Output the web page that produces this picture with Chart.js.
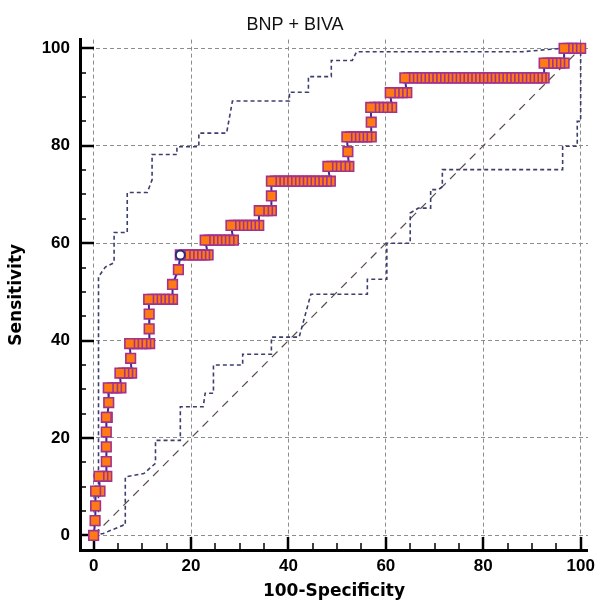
<!DOCTYPE html>
<html>
<head>
<meta charset="utf-8">
<script src="https://cdn.jsdelivr.net/npm/chart.js@4/dist/chart.umd.min.js"></script>
<style>
  html, body { margin: 0; padding: 0; background: #fff; }
  #wrap { width: 601px; height: 603px; }
</style>
</head>
<body>
<div id="wrap"><canvas id="c" width="601" height="603"></canvas></div>
<script>
// ---- data ----
const chartTitle = 'BNP + BIVA';
const xTitle = '100-Specificity';
const yTitle = 'Sensitivity';
const majorTicks = [0, 20, 40, 60, 80, 100];
const minorTicks = [5, 10, 15, 25, 30, 35, 45, 50, 55, 65, 70, 75, 85, 90, 95];

// ROC curve: sensitivity levels and the 100-specificity values plotted at each level
const sensLevels = [0, 3.03, 6.06, 9.09, 12.12, 15.15, 18.18, 21.21, 24.24, 27.27,
  30.30, 33.33, 36.36, 39.39, 42.42, 45.45, 48.48, 51.52, 54.55, 57.58,
  60.61, 63.64, 66.67, 69.70, 72.73, 75.76, 78.79, 81.82, 84.85, 87.88,
  90.91, 93.94, 96.97, 100];
const fprAtLevel = [
  [0], [0.3], [0.4], [0.4, 1.3], [1.1, 1.9, 2.7], [2.6], [2.6], [2.6], [2.6, 2.8], [3.1],
  [3.0, 3.9, 4.7, 5.6], [5.4, 6.2, 7.0, 7.8], [7.6], [7.4, 8.2, 9.0, 9.9, 10.7, 11.5],
  [11.4], [11.4], [11.3, 12.1, 12.9, 13.7, 14.5, 15.4, 16.2], [16.2], [17.4],
  [17.8, 18.8, 19.6, 20.4, 21.2, 22.0, 22.8, 23.5],
  [22.9, 23.7, 24.5, 25.3, 26.1, 26.9, 27.8, 28.7],
  [28.2, 29.0, 29.8, 30.6, 31.4, 32.2, 33.0, 33.9],
  [34.0, 34.9, 35.7, 36.5], [36.5],
  [36.5, 37.3, 38.1, 38.9, 39.7, 40.5, 41.3, 42.1, 42.9, 43.7, 44.5, 45.3, 46.1, 46.9, 47.8, 48.6],
  [48.1, 48.9, 49.8, 50.7, 51.6, 52.4], [52.2],
  [52.0, 52.8, 53.6, 54.4, 55.2, 56.1, 57.0], [57.0],
  [56.9, 57.7, 58.5, 59.4, 60.3, 61.2],
  [60.9, 61.7, 62.5, 63.4, 64.3],
  [63.9, 64.7, 65.5, 66.3, 67.1, 67.9, 68.7, 69.5, 70.3, 71.1, 71.9, 72.7, 73.5, 74.3, 75.1,
   75.9, 76.7, 77.5, 78.3, 79.1, 79.9, 80.7, 81.5, 82.3, 83.1, 83.9, 84.7, 85.5, 86.3, 87.1,
   87.9, 88.7, 89.5, 90.3, 91.1, 91.9, 92.5],
  [92.5, 93.3, 94.1, 94.9, 95.7, 96.6],
  [96.6, 97.4, 98.2, 99.0, 100]
];

// optimal criterion point (hollow circle)
const optX = [17.8];
const optY = [57.58];

// 95% confidence bounds (stepped dashed curves)
const upperX = [0, 1.0, 1.0, 2.4, 4.2, 4.2, 6.9, 6.9, 11.0, 12.0, 12.0, 17.1, 17.1, 21.6, 21.6,
  27.3, 28.5, 40.2, 40.2, 44.1, 44.1, 48.8, 48.8, 53.1, 54.0, 88.0, 96.0, 100];
const upperY = [0, 0, 53.1, 55.1, 56.0, 62.2, 62.2, 70.4, 70.4, 73.0, 78.2, 78.2, 79.8, 79.8, 82.6,
  82.6, 89.2, 89.2, 91.0, 91.0, 94.2, 94.2, 97.5, 97.5, 99.3, 99.3, 100, 100];
const lowerX = [0, 2.0, 6.1, 6.5, 6.5, 10.3, 12.7, 12.7, 17.8, 17.8, 22.5, 22.9, 24.6, 24.6, 30.6,
  30.6, 36.5, 36.5, 42.2, 44.6, 56.2, 56.2, 60.2, 60.2, 65.0, 65.0, 66.7, 69.2, 69.2, 70.8, 71.6,
  71.6, 96.3, 96.3, 99.3, 99.3, 100, 100];
const lowerY = [0, 0.4, 2.1, 2.1, 12.0, 12.7, 14.8, 19.5, 19.5, 26.4, 26.4, 29.2, 29.2, 35.0, 35.0,
  37.2, 37.2, 40.7, 40.7, 49.5, 49.5, 52.6, 52.6, 60.0, 60.0, 66.2, 67.2, 67.2, 71.0, 71.0, 71.6,
  75.1, 75.1, 79.9, 79.9, 85.0, 85.0, 100];

// reference diagonal
const diagX = [0, 100];
const diagY = [0, 100];

// ---- build datasets ----
const zip = (xs, ys) => xs.map((v, i) => ({ x: v, y: ys[i] }));
const rocPoints = [];
sensLevels.forEach((s, i) => fprAtLevel[i].forEach(f => rocPoints.push({ x: f, y: s })));
rocPoints.reverse(); // drawn from (100,100) back to (0,0): left marker of each run on top

const FONT = 'Liberation Sans, Arial, sans-serif';
const TITLE_FONT = 'DejaVu Sans, Verdana, sans-serif';

const innerTicks = {
  id: 'innerTicks',
  beforeDatasetsDraw(chart) {
    const { ctx, chartArea, scales } = chart;
    const xs = scales.x, ys = scales.y;
    ctx.save();
    ctx.strokeStyle = '#000';
    ctx.setLineDash([]);
    const seg = (x1, y1, x2, y2, w) => { ctx.lineWidth = w; ctx.beginPath(); ctx.moveTo(x1, y1); ctx.lineTo(x2, y2); ctx.stroke(); };
    majorTicks.forEach(v => {
      const px = Math.round(xs.getPixelForValue(v));
      seg(px, chartArea.bottom, px, chartArea.bottom - 13, 2.5);
      const py = Math.round(ys.getPixelForValue(v));
      seg(chartArea.left, py, chartArea.left + 14, py, 2.5);
    });
    minorTicks.forEach(v => {
      const px = Math.round(xs.getPixelForValue(v));
      seg(px, chartArea.bottom, px, chartArea.bottom - 7, 1.5);
      const py = Math.round(ys.getPixelForValue(v));
      seg(chartArea.left, py, chartArea.left + 6, py, 1.5);
    });
    ctx.restore();
  }
};

new Chart(document.getElementById('c'), {
  type: 'scatter',
  data: {
    datasets: [
      {
        label: 'Optimal',
        data: zip(optX, optY),
        showLine: false,
        pointStyle: 'circle',
        pointRadius: 4.5,
        pointBackgroundColor: '#ffffff',
        pointBorderColor: '#2c2a78',
        pointBorderWidth: 2
      },
      {
        label: 'ROC',
        data: rocPoints,
        showLine: true,
        borderColor: '#3b2b98',
        borderWidth: 2,
        pointStyle: 'rect',
        pointRadius: 6.8,
        pointBackgroundColor: '#ff7a12',
        pointBorderColor: '#a3328c',
        pointBorderWidth: 1.6
      },
      {
        label: 'Upper CI',
        data: zip(upperX, upperY),
        showLine: true,
        borderColor: '#3c3f6e',
        borderWidth: 1.6,
        borderDash: [4, 3],
        pointRadius: 0
      },
      {
        label: 'Lower CI',
        data: zip(lowerX, lowerY),
        showLine: true,
        borderColor: '#3c3f6e',
        borderWidth: 1.6,
        borderDash: [4, 3],
        pointRadius: 0
      },
      {
        label: 'Diagonal',
        data: zip(diagX, diagY),
        showLine: true,
        borderColor: '#5b4b4b',
        borderWidth: 1.2,
        borderDash: [8, 6],
        pointRadius: 0
      }
    ]
  },
  options: {
    responsive: false,
    animation: false,
    devicePixelRatio: 1,
    layout: { padding: { left: 0, right: 11, top: 0, bottom: 0 } },
    plugins: {
      legend: { display: false },
      tooltip: { enabled: false },
      title: {
        display: true,
        text: chartTitle,
        color: '#111',
        font: { family: FONT, size: 18, weight: 'normal' },
        padding: { top: 14, bottom: 4 }
      }
    },
    scales: {
      x: {
        type: 'linear',
        min: -2.8,
        max: 101.5,
        afterFit(scale) { scale.height = 53; },
        afterBuildTicks(scale) { scale.ticks = majorTicks.map(v => ({ value: v })); },
        ticks: { color: '#000', padding: 6, font: { family: FONT, size: 17, weight: 'bold' } },
        grid: { color: '#8c8c8c', lineWidth: 1, drawTicks: false },
        border: { display: true, color: '#000', width: 3, dash: [4, 3] },
        title: {
          display: true, text: xTitle, color: '#000',
          font: { family: TITLE_FONT, size: 17, weight: 'bold' },
          padding: { top: 0, bottom: 1 }
        }
      },
      y: {
        type: 'linear',
        min: -3,
        max: 101.8,
        afterFit(scale) { scale.width = 80; },
        afterBuildTicks(scale) { scale.ticks = majorTicks.map(v => ({ value: v })); },
        ticks: { color: '#000', padding: 10, font: { family: FONT, size: 17, weight: 'bold' } },
        grid: { color: '#8c8c8c', lineWidth: 1, drawTicks: false },
        border: { display: true, color: '#000', width: 3, dash: [4, 3] },
        title: {
          display: true, text: yTitle, color: '#000',
          font: { family: TITLE_FONT, size: 17, weight: 'bold' },
          padding: { top: 6, bottom: 0 }
        }
      }
    }
  },
  plugins: [innerTicks]
});
</script>
</body>
</html>
